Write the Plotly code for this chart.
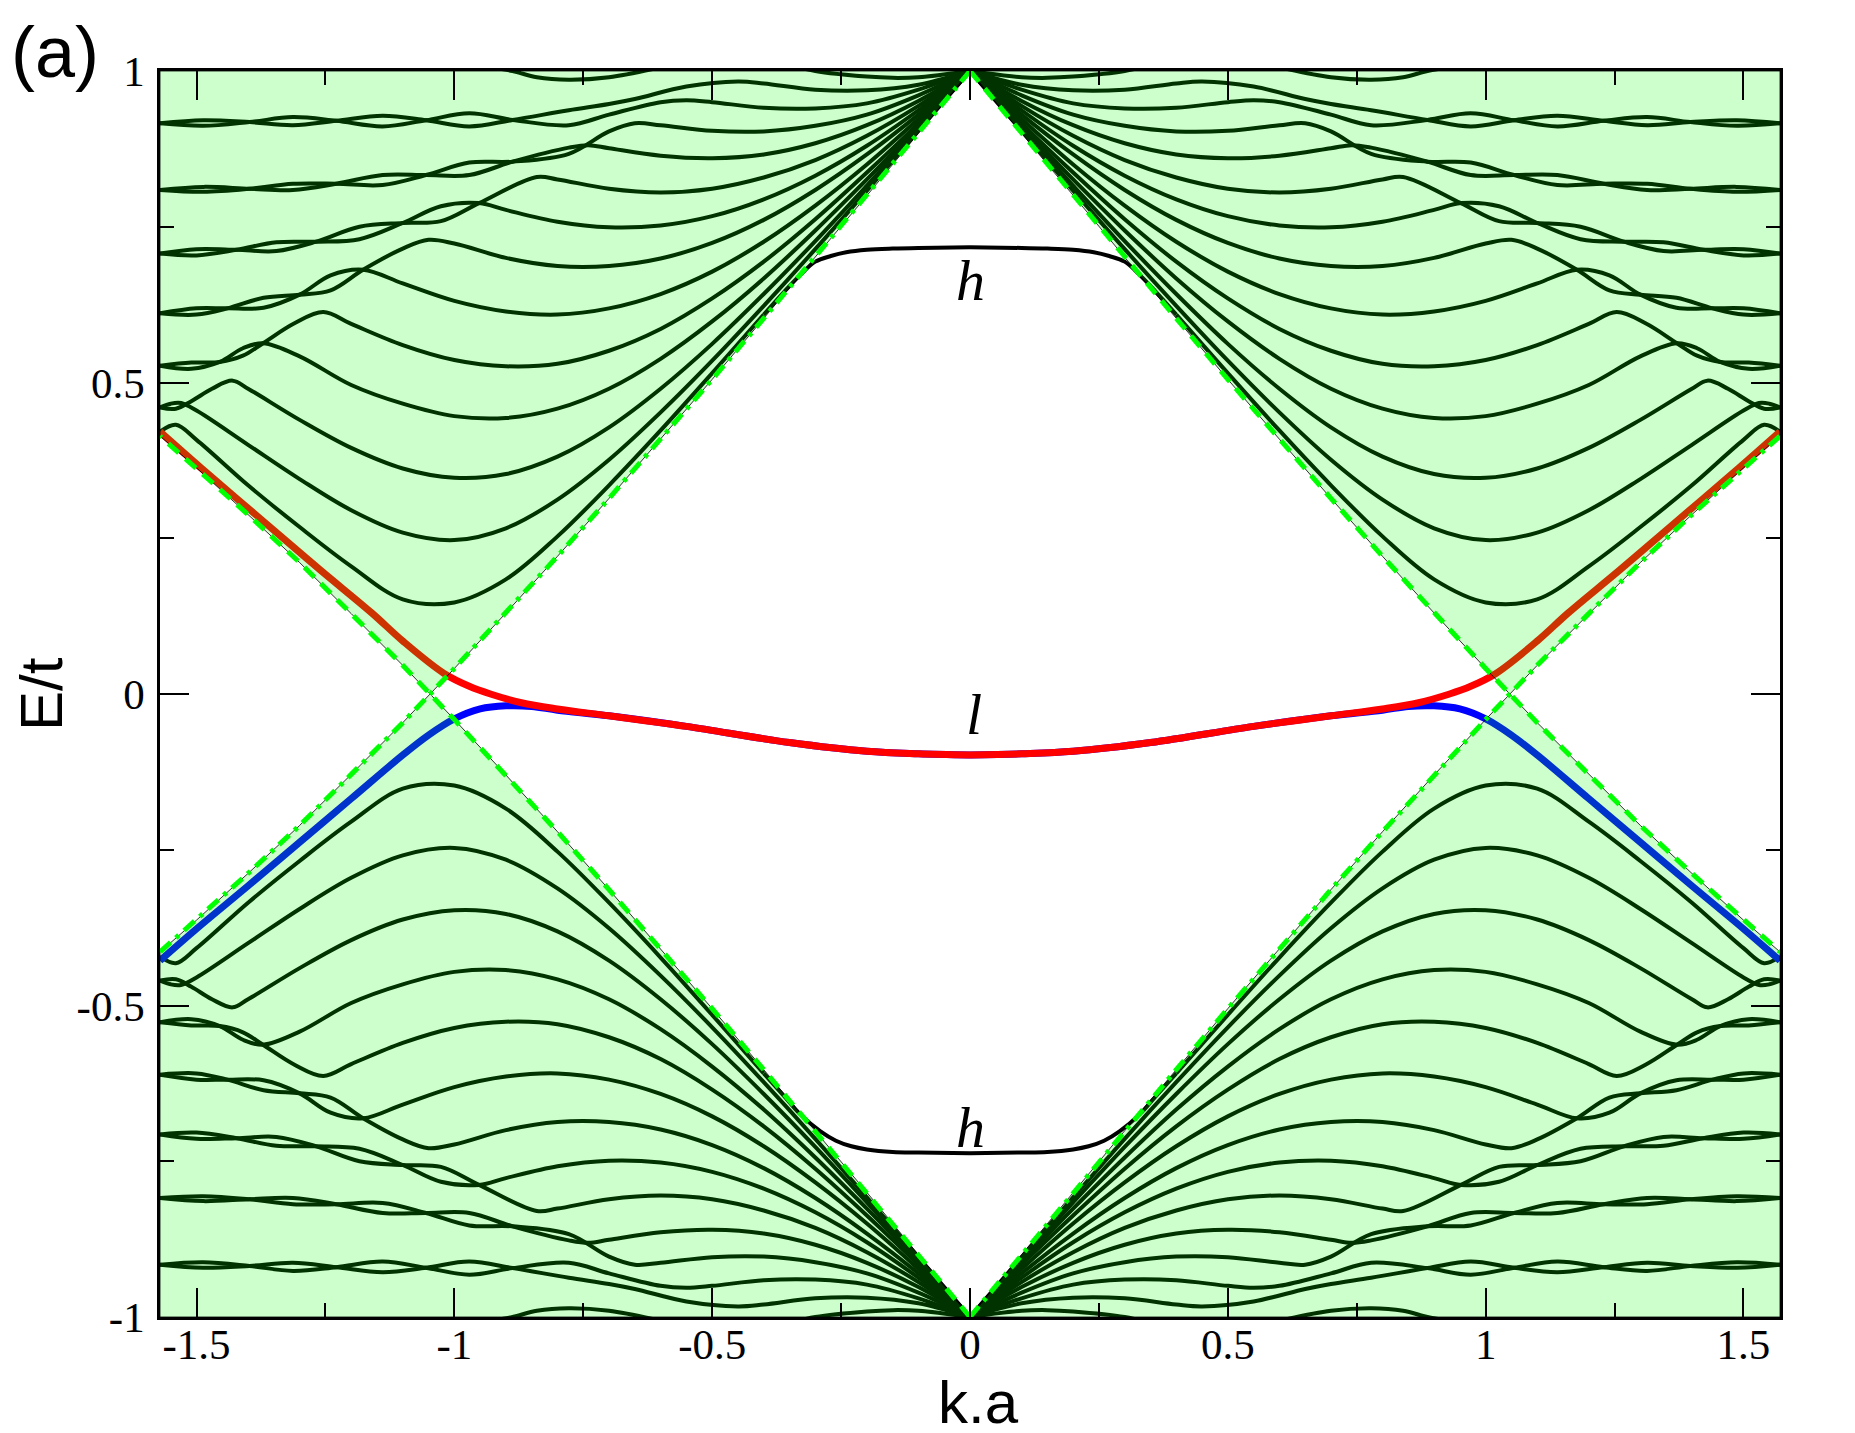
import plotly.graph_objects as go

HALF_PI = 1.5708

# bulk band edge (upper edge of the lower continuum), read for k >= 0
k_edge = [0, 0.1, 0.2, 0.3, 0.4, 0.5, 0.6, 0.7, 0.8, 0.9, 1.0, 1.047, 1.1, 1.2, 1.3, 1.4, 1.5, 1.5708]
e_edge = [1, 0.900, 0.800, 0.701, 0.603, 0.505, 0.409, 0.314, 0.221, 0.130, 0.041, 0.0,
          -0.046, -0.129, -0.211, -0.288, -0.363, -0.414]

# localized states
h_up_k = [0, 0.1, 0.15, 0.2, 0.24, 0.27, 0.3, 0.33, 0.36, 0.4]
h_up_e = [0.717, 0.716, 0.715, 0.713, 0.709, 0.703, 0.694, 0.672, 0.646, 0.609]
h_dn_k = [0, 0.1, 0.15, 0.2, 0.23, 0.26, 0.29, 0.33, 0.36, 0.4]
h_dn_e = [-0.737, -0.736, -0.735, -0.731, -0.726, -0.717, -0.702, -0.674, -0.646, -0.609]

l_red_k = [0, 0.1, 0.2, 0.35, 0.55, 0.7, 0.8, 0.87, 0.93, 0.97, 1.02, 1.1, 1.16, 1.26, 1.36, 1.49, 1.5708]
l_red_e = [-0.098, -0.096, -0.092, -0.078, -0.052, -0.035, -0.024, -0.014, 0.0, 0.012, 0.033,
           0.085, 0.130, 0.199, 0.270, 0.362, 0.421]
l_blue_k = [0, 0.1, 0.2, 0.35, 0.55, 0.7, 0.8, 0.85, 0.9, 0.95, 1.0, 1.05, 1.1, 1.2, 1.3, 1.4, 1.5, 1.5708]
l_blue_e = [-0.098, -0.096, -0.092, -0.078, -0.052, -0.035, -0.026, -0.020, -0.019, -0.024,
            -0.040, -0.066, -0.098, -0.168, -0.238, -0.308, -0.377, -0.428]

# ribbon sub-bands, upper right quadrant (mirrored in k and E)
k1 = [0.40, 0.50, 0.60, 0.70, 0.80, 0.90, 1.00, 1.10, 1.20, 1.30, 1.40, 1.50, 1.54, 1.5708]
e1 = [0.609, 0.515, 0.423, 0.335, 0.253, 0.184, 0.147, 0.152, 0.205, 0.268, 0.335, 0.408, 0.432, 0.421]
k2 = [0, 0.1, 0.2, 0.3, 0.4, 0.5, 0.6, 0.7, 0.8, 0.9, 1.0, 1.1, 1.2, 1.3, 1.4, 1.5, 1.53, 1.55, 1.5708]
e2 = [1, 0.904, 0.808, 0.714, 0.623, 0.535, 0.452, 0.376, 0.312, 0.266, 0.247, 0.259, 0.295,
      0.345, 0.400, 0.455, 0.467, 0.466, 0.460]
k3 = [0, 0.1, 0.2, 0.3, 0.4, 0.5, 0.6, 0.7, 0.8, 0.9, 1.0, 1.1, 1.2, 1.3, 1.4, 1.43, 1.47, 1.51, 1.54, 1.5708]
e3 = [1, 0.907, 0.816, 0.727, 0.642, 0.562, 0.490, 0.428, 0.381, 0.353, 0.347, 0.362, 0.395,
      0.440, 0.490, 0.503, 0.490, 0.470, 0.458, 0.460]
k4 = [0, 0.1, 0.2, 0.3, 0.4, 0.5, 0.6, 0.7, 0.8, 0.9, 1.0, 1.1, 1.2, 1.3, 1.371, 1.41, 1.455, 1.51, 1.5708]
e4 = [1, 0.911, 0.826, 0.744, 0.667, 0.598, 0.538, 0.490, 0.458, 0.443, 0.446, 0.466, 0.496,
      0.542, 0.563, 0.555, 0.533, 0.522, 0.527]
k5 = [0, 0.1, 0.2, 0.3, 0.4, 0.5, 0.6, 0.7, 0.8, 0.9, 1.0, 1.1, 1.2, 1.254, 1.31, 1.371, 1.41, 1.455, 1.51, 1.5708]
e5 = [1, 0.916, 0.837, 0.762, 0.694, 0.635, 0.586, 0.551, 0.530, 0.526, 0.536, 0.560, 0.594,
      0.613, 0.595, 0.563, 0.543, 0.533, 0.532, 0.527]
k6 = [0, 0.1, 0.2, 0.3, 0.4, 0.5, 0.6, 0.7, 0.8, 0.9, 1.0, 1.1, 1.177, 1.24, 1.30, 1.37, 1.44, 1.5, 1.5708]
e6 = [1, 0.923, 0.850, 0.784, 0.726, 0.678, 0.642, 0.619, 0.609, 0.614, 0.631, 0.659, 0.681,
      0.672, 0.641, 0.620, 0.619, 0.619, 0.611]
k7 = [0, 0.1, 0.2, 0.3, 0.4, 0.5, 0.6, 0.7, 0.8, 0.9, 1.0, 1.05, 1.1, 1.177, 1.24, 1.30, 1.37, 1.44, 1.5, 1.5708]
e7 = [1, 0.930, 0.866, 0.809, 0.761, 0.724, 0.699, 0.687, 0.687, 0.700, 0.723, 0.729, 0.715,
      0.681, 0.648, 0.641, 0.636, 0.619, 0.609, 0.611]
k8 = [0, 0.1, 0.2, 0.3, 0.4, 0.5, 0.6, 0.7, 0.8, 0.9, 0.952, 1.026, 1.100, 1.184, 1.268, 1.345, 1.422, 1.5, 1.5708]
e8 = [1, 0.937, 0.880, 0.832, 0.794, 0.767, 0.752, 0.749, 0.758, 0.777, 0.788, 0.783, 0.756,
      0.730, 0.726, 0.725, 0.713, 0.704, 0.707]
k9 = [0, 0.1, 0.2, 0.3, 0.4, 0.5, 0.6, 0.7, 0.8, 0.84, 0.952, 1.026, 1.100, 1.184, 1.268, 1.345, 1.422, 1.5, 1.5708]
e9 = [1, 0.944, 0.896, 0.857, 0.829, 0.811, 0.805, 0.811, 0.826, 0.830, 0.788, 0.759, 0.756,
      0.750, 0.726, 0.711, 0.713, 0.714, 0.707]
k10 = [0, 0.1, 0.2, 0.3, 0.4, 0.5, 0.6, 0.7, 0.74, 0.778, 0.887, 0.971, 1.055, 1.139, 1.229, 1.313, 1.397, 1.487, 1.5708]
e10 = [1, 0.952, 0.913, 0.884, 0.866, 0.860, 0.864, 0.876, 0.881, 0.877, 0.8545, 0.833, 0.833, 0.833,
       0.819, 0.809, 0.811, 0.814, 0.809]
k11 = [0, 0.1, 0.2, 0.3, 0.4, 0.5, 0.6, 0.65, 0.7, 0.778, 0.887, 0.971, 1.055, 1.139, 1.229, 1.313, 1.397, 1.487, 1.5708]
e11 = [1, 0.961, 0.930, 0.912, 0.903, 0.904, 0.913, 0.916, 0.903, 0.867, 0.8545, 0.853, 0.833, 0.817,
       0.819, 0.819, 0.811, 0.806, 0.809]
k12 = [0, 0.1, 0.2, 0.3, 0.4, 0.5, 0.55, 0.6, 0.7, 0.778, 0.887, 0.971, 1.055, 1.139, 1.229, 1.313, 1.397, 1.487, 1.5708]
e12 = [1, 0.970, 0.948, 0.940, 0.941, 0.950, 0.953, 0.950, 0.930, 0.913, 0.9215, 0.932, 0.921, 0.911,
       0.920, 0.926, 0.918, 0.912, 0.916]
k13 = [0, 0.1, 0.2, 0.3, 0.4, 0.45, 0.55, 0.65, 0.7, 0.778, 0.887, 0.971, 1.055, 1.139, 1.229, 1.313, 1.397, 1.487, 1.5708]
e13 = [1, 0.978, 0.969, 0.970, 0.980, 0.983, 0.975, 0.955, 0.947, 0.937, 0.9215, 0.911, 0.921, 0.928,
       0.920, 0.913, 0.918, 0.921, 0.916]
k14 = [0, 0.1, 0.15, 0.2, 0.3, 0.35]
e14 = [1, 0.990, 0.989, 0.991, 1.0, 1.01]
k15 = [0.6, 0.7, 0.778, 0.84, 0.887, 0.93]
e15 = [1.006, 0.990, 0.986, 0.990, 1.0, 1.006]

bands = [(k1, e1), (k2, e2), (k3, e3), (k4, e4), (k5, e5), (k6, e6), (k7, e7), (k8, e8),
         (k9, e9), (k10, e10), (k11, e11), (k12, e12), (k13, e13), (k14, e14), (k15, e15)]


def add_seg(xs, ys, k, e, sx, se):
    xs.extend([sx * v for v in k] + [None])
    ys.extend([se * v for v in e] + [None])


# black sub-bands in all four quadrants
bx, by = [], []
for k, e in bands:
    for sx in (1, -1):
        for se in (1, -1):
            add_seg(bx, by, k, e, sx, se)
for sx in (1, -1):
    add_seg(bx, by, h_up_k, h_up_e, sx, 1)
    add_seg(bx, by, h_dn_k, h_dn_e, sx, 1)

fig = go.Figure()
fig.add_trace(go.Scatter(x=bx, y=by, mode='lines', line=dict(color='black', width=4, shape='spline'),
                         hoverinfo='skip'))

rx, ry, ux, uy = [], [], [], []
for sx in (1, -1):
    add_seg(ux, uy, l_blue_k, l_blue_e, sx, 1)
    add_seg(rx, ry, l_red_k, l_red_e, sx, 1)
fig.add_trace(go.Scatter(x=ux, y=uy, mode='lines', line=dict(color='#0000ff', width=7, shape='spline')))
fig.add_trace(go.Scatter(x=rx, y=ry, mode='lines', line=dict(color='#ff0000', width=7, shape='spline')))

# shaded continua (semi-transparent, on top of the bands)
edge_abs = [abs(v) for v in e_edge]
poly_x = [-v for v in k_edge[::-1]] + k_edge[1:]
poly_y = edge_abs[::-1] + edge_abs[1:]
fig.add_trace(go.Scatter(x=poly_x + [HALF_PI, -HALF_PI, poly_x[0]], y=poly_y + [1, 1, poly_y[0]],
                         fill='toself', fillcolor='rgba(0,255,0,0.2)', mode='lines',
                         line=dict(color='black', width=0.8)))
fig.add_trace(go.Scatter(x=poly_x + [HALF_PI, -HALF_PI, poly_x[0]], y=[-v for v in poly_y] + [-1, -1, -poly_y[0]],
                         fill='toself', fillcolor='rgba(0,255,0,0.2)', mode='lines',
                         line=dict(color='black', width=0.8)))

# analytic band edges
dx, dy, ddx, ddy = [], [], [], []
add_seg(dx, dy, k_edge, e_edge, 1, 1)
add_seg(dx, dy, k_edge, e_edge, -1, -1)
add_seg(ddx, ddy, k_edge, e_edge, 1, -1)
add_seg(ddx, ddy, k_edge, e_edge, -1, 1)
fig.add_trace(go.Scatter(x=dx, y=dy, mode='lines', line=dict(color='#00ff00', width=5, dash='14px,9px')))
fig.add_trace(go.Scatter(x=ddx, y=ddy, mode='lines', line=dict(color='#00ff00', width=5, dash='14px,7px,4px,7px')))

tick_font = dict(family='Liberation Serif', size=43, color='black')
fig.update_layout(
    width=1855, height=1433,
    margin=dict(l=152, r=83, t=63, b=124),
    plot_bgcolor='white', paper_bgcolor='white',
    showlegend=False,
    xaxis=dict(range=[-HALF_PI, HALF_PI], tickmode='array', automargin=False,
               tickvals=[-1.5, -1, -0.5, 0, 0.5, 1, 1.5],
               ticktext=['-1.5', '-1', '-0.5', '0', '0.5', '1', '1.5'],
               ticks='inside', ticklen=29, tickwidth=2, tickcolor='black',
               minor=dict(tickvals=[-1.25, -0.75, -0.25, 0.25, 0.75, 1.25], ticklen=14,
                          tickwidth=2, tickcolor='black', ticks='inside'),
               showline=True, linecolor='black', linewidth=2.5, mirror='allticks',
               showgrid=False, zeroline=False, tickfont=tick_font, ticklabelstandoff=-12),
    yaxis=dict(range=[-1, 1], tickmode='array', automargin=False,
               tickvals=[-1, -0.5, 0, 0.5, 1],
               ticktext=['-1', '-0.5', '0', '0.5', '1'],
               ticks='inside', ticklen=29, tickwidth=2, tickcolor='black',
               minor=dict(tickvals=[-0.75, -0.25, 0.25, 0.75], ticklen=14,
                          tickwidth=2, tickcolor='black', ticks='inside'),
               showline=True, linecolor='black', linewidth=2.5, mirror='allticks',
               showgrid=False, zeroline=False, tickfont=tick_font, ticklabelstandoff=4),
)

sans = dict(family='Liberation Sans', size=60, color='black')
fig.add_annotation(text='k.a', x=0.505, y=-0.069, xref='paper', yref='paper',
                   showarrow=False, font=sans, xanchor='center', yanchor='middle')
fig.add_annotation(text='E/t', x=-0.0735, y=0.5, xref='paper', yref='paper', textangle=-90,
                   showarrow=False, font=sans, xanchor='center', yanchor='middle')
fig.add_annotation(text='(a)', x=-0.0648, y=1.015, xref='paper', yref='paper',
                   showarrow=False, font=dict(family='Liberation Sans', size=72, color='black'),
                   xanchor='center', yanchor='middle')
ital = dict(family='Liberation Serif', size=58, color='black', style='italic')
fig.add_annotation(text='h', x=0, y=0.664, showarrow=False, font=ital)
fig.add_annotation(text='l', x=0.008, y=-0.033, showarrow=False, font=ital)
fig.add_annotation(text='h', x=0, y=-0.696, showarrow=False, font=ital)

fig.write_html('out.html')
